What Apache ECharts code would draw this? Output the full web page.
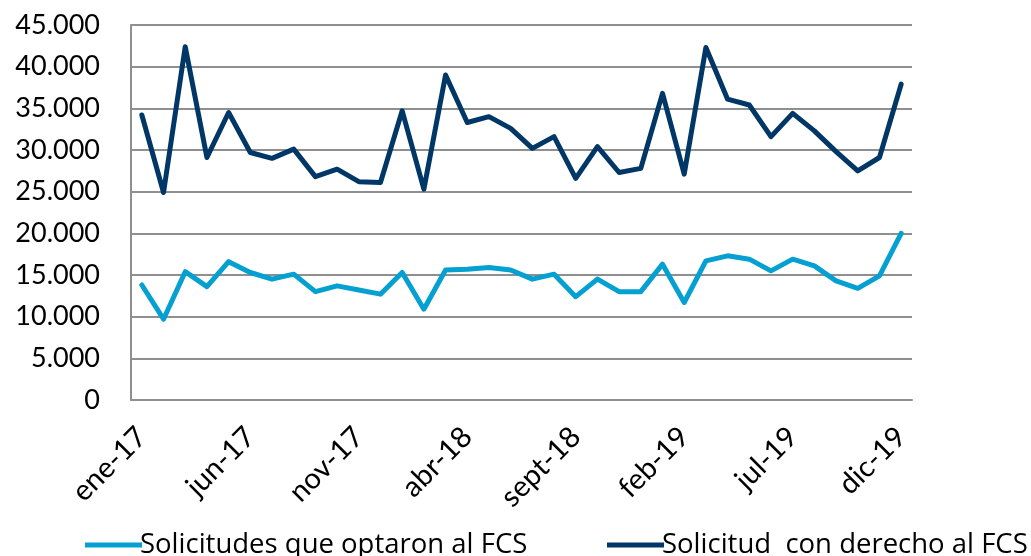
<!DOCTYPE html>
<html>
<head>
<meta charset="utf-8">
<script src="https://cdn.jsdelivr.net/npm/echarts@6/dist/echarts.min.js"></script>
<style>
  html, body { margin: 0; padding: 0; background: #fff; }
  #chart { width: 1031px; height: 556px; }
</style>
</head>
<body>
<div id="chart"></div>
<script>
const months = [
  'ene-17', 'feb-17', 'mar-17', 'abr-17', 'may-17', 'jun-17', 'jul-17', 'ago-17', 'sept-17', 'oct-17', 'nov-17', 'dic-17',
  'ene-18', 'feb-18', 'mar-18', 'abr-18', 'may-18', 'jun-18', 'jul-18', 'ago-18', 'sept-18', 'oct-18', 'nov-18', 'dic-18',
  'ene-19', 'feb-19', 'mar-19', 'abr-19', 'may-19', 'jun-19', 'jul-19', 'ago-19', 'sept-19', 'oct-19', 'nov-19', 'dic-19'
]

// Solicitudes que optaron al FCS
const optaron = [
  13800, 9700, 15400, 13600, 16600, 15300, 14500, 15100, 13000, 13700, 13200, 12700,
  15300, 10900, 15600, 15700, 15900, 15600, 14500, 15100, 12400, 14500, 13000, 13000,
  16300, 11700, 16700, 17300, 16900, 15500, 16900, 16100, 14300, 13400, 14900, 20000
]

// Solicitud con derecho al FCS
const conDerecho = [
  34200, 24900, 42400, 29100, 34500, 29700, 29000, 30100, 26800, 27700, 26200, 26100,
  34700, 25300, 39000, 33300, 34000, 32600, 30200, 31600, 26600, 30400, 27300, 27800,
  36800, 27100, 42300, 36100, 35400, 31600, 34400, 32300, 29800, 27500, 29100, 37900
]

const nameOptaron = 'Solicitudes que optaron al FCS'
const nameDerecho = 'Solicitud  con derecho al FCS'

const font = 'Lato, "Open Sans", sans-serif'
const legendFont = '"Open Sans", Lato, sans-serif'
const gridColor = '#8f8f8f'

const chart = echarts.init(document.getElementById('chart'))

const legendBase = {
  bottom: -8,
  icon: 'rect',
  itemWidth: 57,
  itemHeight: 5,
  itemGap: 4,
  textStyle: { fontFamily: legendFont, fontSize: 27.5, color: '#000', padding: [0, 0, 0, -7] }
}

chart.setOption({
  animation: false,
  grid: { left: 131, right: 119, top: 25, bottom: 156 },
  legend: [
    Object.assign({}, legendBase, { left: 80, data: [nameOptaron] }),
    Object.assign({}, legendBase, { left: 602, data: [nameDerecho] })
  ],
  xAxis: {
    type: 'category',
    data: months,
    boundaryGap: true,
    axisLine: { show: true, lineStyle: { color: gridColor, width: 2 } },
    axisTick: { show: false },
    axisLabel: {
      interval: 4,
      rotate: 45,
      margin: 32,
      fontFamily: font,
      fontSize: 29,
      color: '#000'
    }
  },
  yAxis: {
    type: 'value',
    min: 0,
    max: 45000,
    interval: 5000,
    axisLine: { show: true, lineStyle: { color: gridColor, width: 2 } },
    axisTick: { show: false },
    splitLine: { lineStyle: { color: gridColor, width: 2 } },
    axisLabel: {
      margin: 31,
      fontFamily: font,
      fontSize: 27,
      color: '#000',
      formatter: v => v.toLocaleString('de-DE')
    }
  },
  series: [
    {
      name: nameOptaron,
      type: 'line',
      data: optaron,
      symbol: 'none',
      color: '#03a0d1',
      lineStyle: { width: 5, color: '#03a0d1', join: 'round', cap: 'round' }
    },
    {
      name: nameDerecho,
      type: 'line',
      data: conDerecho,
      symbol: 'none',
      color: '#003767',
      lineStyle: { width: 5, color: '#003767', join: 'round', cap: 'round' }
    }
  ]
})
</script>
</body>
</html>
